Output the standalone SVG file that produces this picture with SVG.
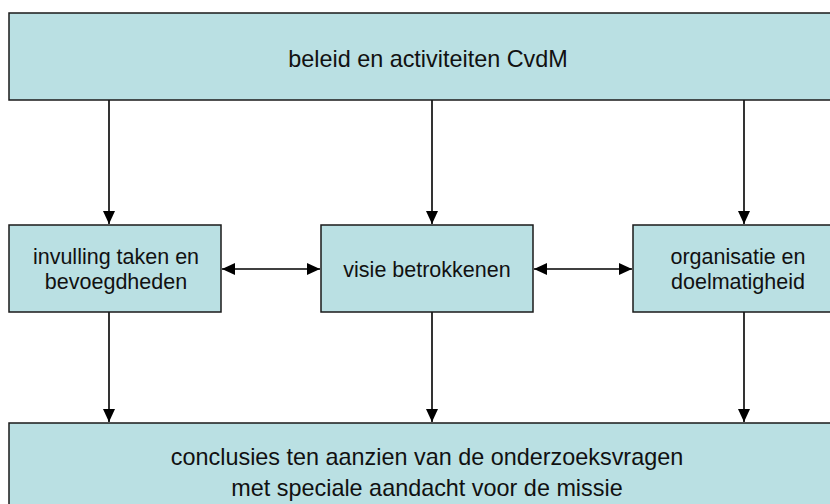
<svg xmlns="http://www.w3.org/2000/svg" width="830" height="504" viewBox="0 0 830 504">
<style>
.box{fill:#bae0e3;stroke:#1a1a1a;stroke-width:1.5}
.lbl{font-family:"Liberation Sans",Arial,sans-serif;font-size:21.5px;fill:#111;text-anchor:middle}
.big{font-size:23.4px}
.con{stroke:#000;stroke-width:1.6;fill:none}
</style>
<defs>
<marker id="ah" viewBox="0 0 13 12" refX="13" refY="6" markerWidth="13" markerHeight="12" markerUnits="userSpaceOnUse" orient="auto-start-reverse">
<path d="M0,0 L13,6 L0,12 z" fill="#000"/>
</marker>
</defs>
<g id="connectors">
<line class="con" x1="109" y1="100" x2="109" y2="224" marker-end="url(#ah)"/>
<line class="con" x1="432" y1="100" x2="432" y2="224" marker-end="url(#ah)"/>
<line class="con" x1="744" y1="100" x2="744" y2="224" marker-end="url(#ah)"/>
<line class="con" x1="109" y1="312" x2="109" y2="422" marker-end="url(#ah)"/>
<line class="con" x1="432" y1="312" x2="432" y2="422" marker-end="url(#ah)"/>
<line class="con" x1="744" y1="312" x2="744" y2="422" marker-end="url(#ah)"/>
<line class="con" x1="222" y1="269" x2="320" y2="269" marker-start="url(#ah)" marker-end="url(#ah)"/>
<line class="con" x1="534" y1="269" x2="632" y2="269" marker-start="url(#ah)" marker-end="url(#ah)"/>
</g>
<g id="top">
<rect class="box" x="9" y="13" width="830" height="87"/>
<text class="lbl big" x="428" y="67">beleid en activiteiten CvdM</text>
</g>
<g id="taken">
<rect class="box" x="9" y="225" width="212" height="87"/>
<text class="lbl" x="116" y="264">invulling taken en</text>
<text class="lbl" x="116" y="289">bevoegdheden</text>
</g>
<g id="visie">
<rect class="box" x="321" y="225" width="212" height="87"/>
<text class="lbl" x="427" y="277">visie betrokkenen</text>
</g>
<g id="organisatie">
<rect class="box" x="633" y="225" width="212" height="87"/>
<text class="lbl" x="738" y="264">organisatie en</text>
<text class="lbl" x="738" y="289">doelmatigheid</text>
</g>
<g id="conclusies">
<rect class="box" x="9" y="423" width="830" height="90"/>
<text class="lbl big" x="427" y="465">conclusies ten aanzien van de onderzoeksvragen</text>
<text class="lbl big" x="427" y="496">met speciale aandacht voor de missie</text>
</g>
</svg>
